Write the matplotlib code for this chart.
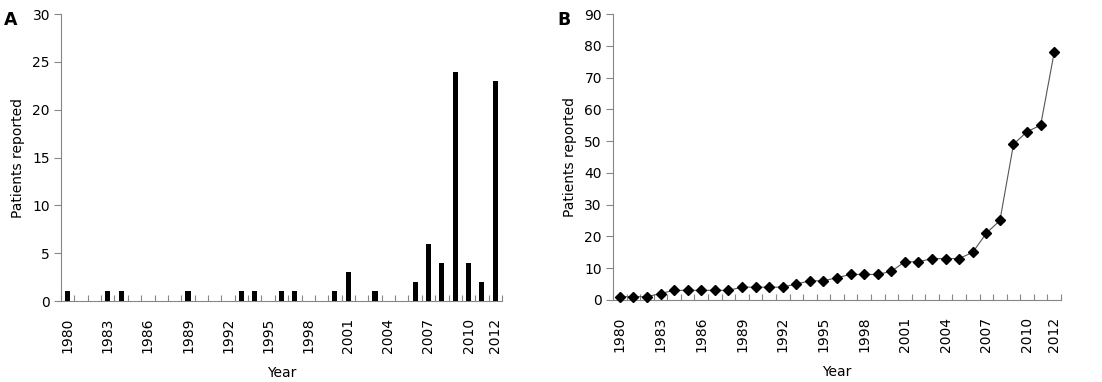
import numpy as np
import matplotlib
matplotlib.use("Agg")
import matplotlib.pyplot as plt
from matplotlib.ticker import FixedLocator

# Data
years = list(range(1980, 2013))
new_patients = [1, 0, 0, 1, 1, 0, 0, 0, 0, 1, 0, 0, 0, 1, 1, 0, 1, 1, 0, 0,
                1, 3, 0, 1, 0, 0, 2, 6, 4, 24, 4, 2, 23]
cumulative = [1, 1, 1, 2, 3, 3, 3, 3, 3, 4, 4, 4, 4, 5, 6, 6, 7, 8, 8, 8,
              9, 12, 12, 13, 13, 13, 15, 21, 25, 49, 53, 55, 78]
label_years = [1980, 1983, 1986, 1989, 1992, 1995, 1998, 2001, 2004, 2007, 2010, 2012]

plt.rcParams['font.family'] = ['DejaVu Sans']
axis_grey = '#868686'

fig = plt.figure(figsize=(11.02, 3.82), dpi=100)
ax_a = fig.add_axes([0.0554, 0.212, 0.4001, 0.751])
ax_b = fig.add_axes([0.5563, 0.215, 0.4065, 0.748])

x = np.arange(len(years))


def style_axis(ax, ymax, ystep):
    ax.set_xlim(-0.5, len(years) - 0.5)
    ax.set_ylim(0, ymax)
    ax.set_yticks(np.arange(0, ymax + 1, ystep))
    ticks = [years.index(y) for y in label_years]
    ax.set_xticks(ticks)
    ax.set_xticklabels([str(y) for y in label_years], rotation=90, fontsize=10)
    ax.tick_params(axis='x', which='major', length=0, pad=12)
    ax.xaxis.set_minor_locator(FixedLocator(np.arange(-0.5, len(years), 1.0)))
    ax.tick_params(axis='x', which='minor', direction='in', length=4,
                   color=axis_grey, width=0.8)
    ax.tick_params(axis='y', direction='out', length=5, color=axis_grey,
                   width=0.8, labelsize=10, pad=3)
    for side in ['top', 'right']:
        ax.spines[side].set_visible(False)
    for side in ['left', 'bottom']:
        ax.spines[side].set_color(axis_grey)
        ax.spines[side].set_linewidth(0.8)
    ax.set_xlabel('Year', fontsize=10, labelpad=9)
    ax.set_ylabel('Patients reported', fontsize=10, labelpad=5)


# Panel A: new patients per year
ax_a.bar(x, new_patients, width=0.38, color='black', zorder=3)
style_axis(ax_a, 30, 5)

# Panel B: cumulative patients
ax_b.plot(x, cumulative, color='#555555', linewidth=0.8, marker='D',
          markersize=5.5, markerfacecolor='black', markeredgecolor='black',
          clip_on=False, zorder=3)
style_axis(ax_b, 90, 10)

fig.text(0.004, 0.97, 'A', fontsize=12.5, fontweight='bold', va='top')
fig.text(0.506, 0.97, 'B', fontsize=12.5, fontweight='bold', va='top')

fig.savefig('out.png', dpi=100)
